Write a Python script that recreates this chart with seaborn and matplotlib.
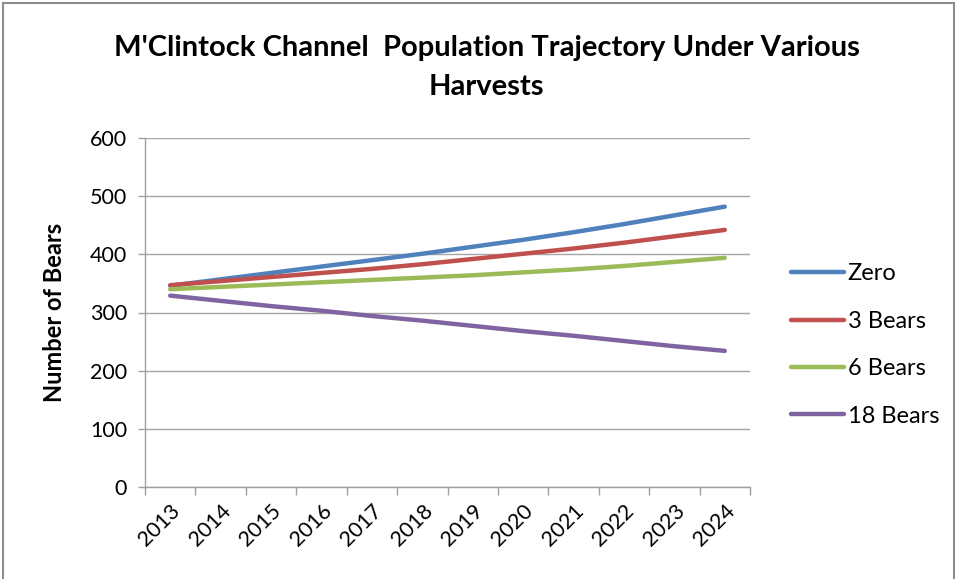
import matplotlib
matplotlib.use("Agg")
import matplotlib.pyplot as plt
from matplotlib.patches import Rectangle
import seaborn as sns
import pandas as pd

years = ["2013", "2014", "2015", "2016", "2017", "2018", "2019", "2020",
         "2021", "2022", "2023", "2024"]
zero = [346, 357, 368, 379, 390, 401, 413, 425, 438, 452, 467, 482]
bears3 = [347, 354, 361, 368, 375, 383, 392, 401, 410, 420, 431, 442]
bears6 = [340, 344, 348, 352, 356, 360, 364, 369, 374, 380, 387, 394]
bears18 = [329, 320, 311, 303, 294, 286, 277, 268, 260, 251, 242, 234]
series_names = ["Zero", "3 Bears", "6 Bears", "18 Bears"]
colors = ["#4F81BD", "#C0504D", "#9BBB59", "#8064A2"]

rows = []
for name, vals in zip(series_names, [zero, bears3, bears6, bears18]):
    for i, v in enumerate(vals):
        rows.append({"idx": i, "Year": years[i], "Bears": v, "Scenario": name})
df = pd.DataFrame(rows)

sns.set_theme(style="white")
plt.rcParams["font.family"] = ["Lato", "DejaVu Sans"]
plt.rcParams["text.color"] = "black"
plt.rcParams["axes.labelcolor"] = "black"

fig = plt.figure(figsize=(9.57, 5.79), dpi=100)
ax = fig.add_axes([145 / 957, 1 - 487 / 579, (750 - 145) / 957, (487 - 138) / 579])

sns.lineplot(data=df, x="idx", y="Bears", hue="Scenario", hue_order=series_names,
             palette=colors, linewidth=3.2, ax=ax, legend=True)

ax.set_xlim(-0.5, len(years) - 0.5)
ax.set_ylim(0, 600)
ax.set_yticks(range(0, 601, 100))
ax.set_xticks(range(len(years)))
ax.set_xticklabels(years, rotation=45, ha="right", rotation_mode="anchor")
ax.set_xticks([i - 0.5 for i in range(len(years) + 1)], minor=True)
ax.tick_params(axis="x", which="major", length=0, pad=10, labelsize=15.5, labelcolor="black")
ax.tick_params(axis="x", which="minor", length=6, width=1, color="#A0A0A0", direction="out", bottom=True)
ax.tick_params(axis="y", which="major", length=5, width=1, color="#A0A0A0", direction="out",
               left=True, pad=8, labelsize=15.5, labelcolor="black")
ax.yaxis.grid(True, color="#A6A6A6", linewidth=1)
ax.xaxis.grid(False)
for s in ["top", "right"]:
    ax.spines[s].set_visible(False)
for s in ["left", "bottom"]:
    ax.spines[s].set_color("#A0A0A0")
    ax.spines[s].set_linewidth(1)
ax.set_xlabel("")
ax.set_ylabel("Number of Bears", fontsize=17, fontweight="bold")
ax.yaxis.set_label_coords((66 - 145) / 605, 0.5)

handles, labels = ax.get_legend_handles_labels()
ax.legend(handles, labels, loc="center left", bbox_to_anchor=(791 / 957, 1 - 345 / 579),
          bbox_transform=fig.transFigure, frameon=False, fontsize=17,
          handlelength=2.25, handletextpad=0.15, labelspacing=1.12, borderaxespad=0,
          borderpad=0)
for line in ax.get_legend().get_lines():
    line.set_linewidth(3.2)

fig.text(0.5 + 8 / 957, 1 - 48 / 579, "M'Clintock Channel  Population Trajectory Under Various",
         ha="center", va="center", fontsize=21, fontweight="bold")
fig.text(0.5 + 8 / 957, 1 - 87 / 579, "Harvests",
         ha="center", va="center", fontsize=21, fontweight="bold")

fig.patches.append(Rectangle((3 / 957, -0.01), 951 / 957, 1 - 3 / 579 + 0.01,
                             transform=fig.transFigure, fill=False,
                             edgecolor="#8C8C8C", linewidth=1.5))

fig.savefig("out.png", dpi=100, facecolor="white")
